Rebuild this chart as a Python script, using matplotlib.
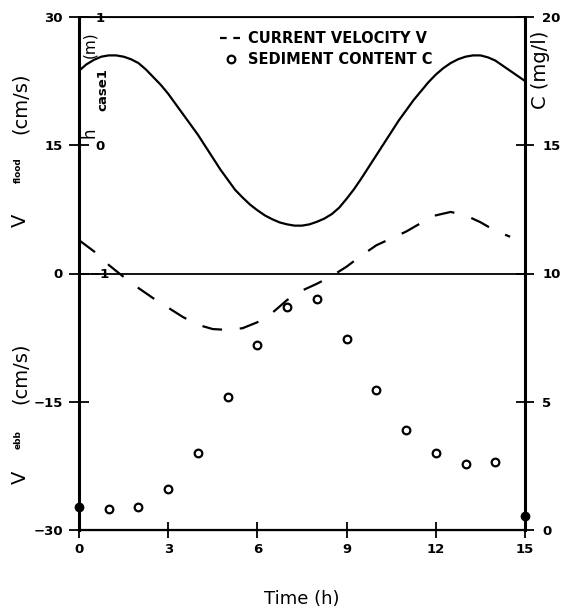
import matplotlib.pyplot as plt
from matplotlib.lines import Line2D

# tide level h (case 1), every quarter hour
t_h = [0, 0.25, 0.5, 0.75, 1, 1.25, 1.5, 1.75, 2, 2.25, 2.5, 2.75, 3, 3.25, 3.5,
       3.75, 4, 4.25, 4.5, 4.75, 5, 5.25, 5.5, 5.75, 6, 6.25, 6.5, 6.75, 7, 7.25,
       7.5, 7.75, 8, 8.25, 8.5, 8.75, 9, 9.25, 9.5, 9.75, 10, 10.25, 10.5, 10.75,
       11, 11.25, 11.5, 11.75, 12, 12.25, 12.5, 12.75, 13, 13.25, 13.5, 13.75, 14,
       14.25, 14.5, 14.75, 15]
h_case1 = [0.58, 0.63, 0.665, 0.69, 0.70, 0.70, 0.69, 0.67, 0.64, 0.59, 0.53, 0.47,
           0.40, 0.32, 0.24, 0.16, 0.08, -0.01, -0.10, -0.19, -0.27, -0.35, -0.41,
           -0.465, -0.51, -0.55, -0.58, -0.605, -0.62, -0.63, -0.63, -0.62, -0.60,
           -0.575, -0.54, -0.49, -0.42, -0.345, -0.26, -0.17, -0.08, 0.01, 0.10,
           0.19, 0.27, 0.35, 0.42, 0.49, 0.55, 0.60, 0.64, 0.67, 0.69, 0.70, 0.70,
           0.685, 0.66, 0.62, 0.58, 0.54, 0.50]

# current velocity V (cm/s), dashed curve
t_v = [0, 0.5, 1, 1.5, 2, 2.5, 3, 3.5, 4, 4.5, 5, 5.5, 6, 6.5, 7, 7.5, 8, 8.5, 9,
       9.5, 10, 10.5, 11, 11.5, 12, 12.5, 13, 13.5, 14, 14.5]
velocity = [3.9, 2.6, 1.0, -0.4, -1.7, -2.9, -4.0, -5.1, -6.0, -6.5, -6.6, -6.4, -5.7,
            -4.6, -3.1, -2.0, -1.2, -0.3, 0.8, 2.1, 3.3, 4.1, 4.9, 5.9, 6.8, 7.2, 6.8,
            6.0, 5.0, 4.3]

# sediment content C (mg/l)
t_c = [1, 2, 3, 4, 5, 6, 7, 8, 9, 10, 11, 12, 13, 14]
sediment = [0.82, 0.9, 1.6, 3.0, 5.2, 7.2, 8.7, 9.0, 7.45, 5.45, 3.9, 3.0, 2.57, 2.65]
t_c_end = [0, 15]
sediment_end = [0.9, 0.55]

v_ticks = [-30, -15, 0, 15, 30]
v_labels = ['\u221230', '\u221215', '0', '15', '30']
c_ticks = [0, 5, 10, 15, 20]
h_ticks = [-1, 0, 1]
h_labels = ['\u22121', '0', '1']
x_ticks = [0, 3, 6, 9, 12, 15]

plt.rcParams['font.family'] = ['DejaVu Sans']

W, H = 562, 611
fig = plt.figure(figsize=(W / 100, H / 100), dpi=100)
ax = fig.add_axes([79 / W, 1 - 530 / H, 446 / W, 513 / H])

ax.plot(t_v, velocity, color='black', lw=1.6, dashes=(9, 8))
ax.axhline(0, color='black', lw=1.3)
ax.set_xlim(0, 15)
ax.set_ylim(-30, 30)
ax.set_xticks(x_ticks)
ax.set_yticks(v_ticks, v_labels)
ax.tick_params(axis='y', direction='inout', length=15, width=1.3, pad=4,
               labelsize=9.5)
ax.tick_params(axis='x', direction='inout', length=11, width=1.3, pad=4,
               labelsize=9.5)
for lbl in ax.get_xticklabels() + ax.get_yticklabels():
    lbl.set_fontweight('bold')
ax.spines['left'].set_linewidth(2.2)
ax.spines['right'].set_linewidth(2.2)
ax.spines['top'].set_linewidth(1.3)
ax.spines['bottom'].set_linewidth(1.6)
ax.set_xlabel('Time (h)', fontsize=13, labelpad=24)

ax2 = ax.twinx()
ax2.set_ylim(0, 20)
ax2.set_yticks(c_ticks)
ax2.tick_params(axis='y', direction='inout', length=13, width=1.3, pad=6,
                labelsize=9.5)
for lbl in ax2.get_yticklabels():
    lbl.set_fontweight('bold')
ax2.plot(t_c, sediment, 'o', ms=5.5, mfc='white', mec='black', mew=1.6)
ax2.plot(t_c_end, sediment_end, 'o', ms=6, color='black', clip_on=False)

# inner tide axis on the upper half
axh = fig.add_axes([79 / W, 1 - 273 / H, 446 / W, 256 / H])
axh.patch.set_visible(False)
for s in axh.spines.values():
    s.set_visible(False)
axh.plot(t_h, h_case1, color='black', lw=1.6)
axh.set_xlim(0, 15)
axh.set_ylim(-1, 1)
axh.set_xticks([])
axh.set_yticks(h_ticks, h_labels)
axh.tick_params(axis='y', length=0, pad=-15, labelsize=9.5)
for lbl in axh.get_yticklabels():
    lbl.set_ha('center')
    lbl.set_fontweight('bold')

handles = [Line2D([], [], color='black', lw=1.6, ls=(0, (3, 3))),
           Line2D([], [], ls='none', marker='o', ms=5.5, mfc='white',
                  mec='black', mew=1.6)]
ax2.legend(handles, ['CURRENT VELOCITY V', 'SEDIMENT CONTENT C'],
           loc='upper left', bbox_to_anchor=(0.316, 0.973), frameon=False,
           borderpad=0, borderaxespad=0, handlelength=1.5, handletextpad=0.4,
           labelspacing=0.45, prop={'weight': 'bold', 'size': 10.5})

# axis titles
fig.text(20 / W, 1 - 103 / H, '(cm/s)', rotation=90, fontsize=14,
         ha='center', va='center')
fig.text(18 / W, 1 - 170 / H, 'flood', rotation=90, fontsize=6.5,
         fontweight='bold', ha='center', va='center')
fig.text(20 / W, 1 - 220 / H, 'V', rotation=90, fontsize=14,
         ha='center', va='center')
fig.text(20 / W, 1 - 373 / H, '(cm/s)', rotation=90, fontsize=14,
         ha='center', va='center')
fig.text(18 / W, 1 - 440 / H, 'ebb', rotation=90, fontsize=6.5,
         fontweight='bold', ha='center', va='center')
fig.text(20 / W, 1 - 477 / H, 'V', rotation=90, fontsize=14,
         ha='center', va='center')
fig.text(90 / W, 1 - 45 / H, '(m)', rotation=90, fontsize=11,
         ha='center', va='center')
fig.text(103 / W, 1 - 90 / H, 'case1', rotation=90, fontsize=9.5,
         fontweight='bold', ha='center', va='center')
fig.text(90 / W, 1 - 133 / H, 'h', rotation=90, fontsize=12,
         ha='center', va='center')
fig.text(541 / W, 1 - 70 / H, 'C (mg/l)', rotation=90, fontsize=14,
         ha='center', va='center')

fig.savefig('out.png', dpi=100)
